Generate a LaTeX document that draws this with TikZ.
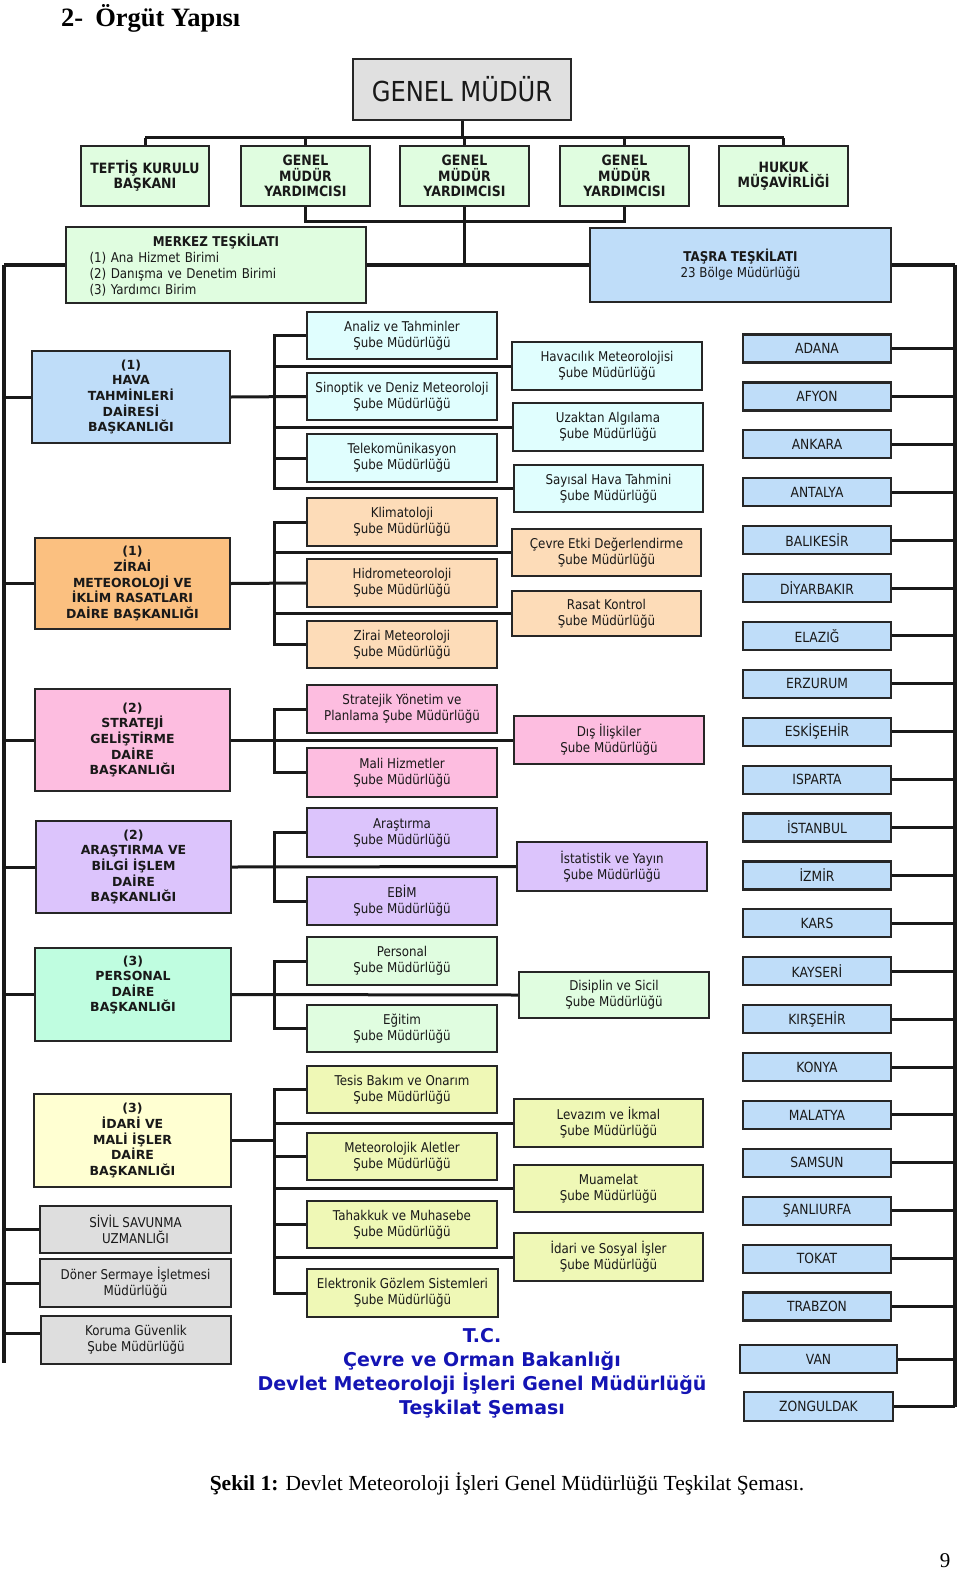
\documentclass[tikz,border=0pt]{standalone}
\usepackage{fontspec}
\setmainfont{Liberation Serif}
\newfontfamily\tah[FakeStretch=0.88]{DejaVu Sans}
\newfontfamily\verd{DejaVu Sans}
\usetikzlibrary{backgrounds}
\definecolor{gmgray}{HTML}{E0E0E0}
\definecolor{pgreen}{HTML}{E0FDE0}
\definecolor{lblue}{HTML}{BFDDF9}
\definecolor{pcyan}{HTML}{E0FEFE}
\definecolor{orng}{HTML}{FBC080}
\definecolor{peach}{HTML}{FDDCB8}
\definecolor{pink}{HTML}{FDBDE0}
\definecolor{lav}{HTML}{DCC4FC}
\definecolor{mint}{HTML}{BFFDE0}
\definecolor{pyel}{HTML}{FFFFD2}
\definecolor{ygreen}{HTML}{EFF8B6}
\definecolor{lgray}{HTML}{DEDEDE}
\definecolor{tblue}{HTML}{1414B4}
\newcommand\bx[7]{\node[#6, minimum width={(#4)-(#2)}, minimum height={(#5)-(#3)}] (#1) at ({((#2)+(#4))/2},{((#3)+(#5))/2}) {#7};}
\begin{document}
\begin{tikzpicture}[x=1pt,y=-1pt,
  box/.style={draw=black!85, line width=2.2pt, align=center, inner sep=1pt, text=black!90},
  sub/.style={box, font=\tah\fontsize{13.5}{16}\selectfont},
  dept/.style={box, font=\verd\bfseries\fontsize{12.5}{15.6}\selectfont},
  topb/.style={box, fill=pgreen, font=\tah\bfseries\fontsize{14.2}{15.5}\selectfont},
  prov/.style={box, fill=lblue, minimum width=148, minimum height=28, font=\tah\fontsize{14}{16}\selectfont},
  conn/.style={line width=3pt, draw=black!90},
  mainline/.style={line width=3.5pt, draw=black!90}]
\useasboundingbox (0,0) rectangle (960,1573);

% header, caption, page number
\node[anchor=west, font=\bfseries\fontsize{26.5}{28}\selectfont, inner sep=0pt] (hdr) at (61,18) {2-\hspace{12pt}Örgüt Yapısı};
\node[font=\fontsize{21.5}{24}\selectfont, inner sep=0pt] (cap) at (507,1484) {\textbf{Şekil 1:} Devlet Meteoroloji İşleri Genel Müdürlüğü Teşkilat Şeması.};
\node[font=\fontsize{21}{24}\selectfont, inner sep=0pt] (pg) at (945,1561) {9};

% top level
\bx{gm}{353}{59}{571}{120}{box, fill=gmgray, font=\tah\fontsize{27.5}{30}\selectfont}{GENEL MÜDÜR}
\bx{t1}{81}{146}{209}{206}{topb}{TEFTİŞ KURULU\\BAŞKANI}
\bx{t2}{241}{146}{370}{206}{topb}{GENEL\\MÜDÜR\\YARDIMCISI}
\bx{t3}{400}{146}{529}{206}{topb}{GENEL\\MÜDÜR\\YARDIMCISI}
\bx{t4}{560}{146}{689}{206}{topb}{GENEL\\MÜDÜR\\YARDIMCISI}
\bx{t5}{719}{146}{848}{206}{topb}{HUKUK\\MÜŞAVİRLİĞİ}

\bx{merkez}{66}{227}{366}{303}{box, fill=pgreen, align=left, text width=253, font=\tah\fontsize{13.5}{16}\selectfont}{\makebox[\linewidth]{\bfseries MERKEZ TEŞKİLATI}\\(1) Ana Hizmet Birimi\\(2) Danışma ve Denetim Birimi\\(3) Yardımcı Birim}
\bx{tasra}{590}{228}{891}{302}{box, fill=lblue, font=\tah\fontsize{13.5}{16}\selectfont}{\textbf{TAŞRA TEŞKİLATI}\\23 Bölge Müdürlüğü}

% departments
\bx{hava}{32}{351}{230}{443}{dept, fill=lblue}{(1)\\HAVA\\TAHMİNLERİ\\DAİRESİ\\BAŞKANLIĞI}
\bx{zirai}{35}{538}{230}{629}{dept, fill=orng}{(1)\\ZİRAİ\\METEOROLOJİ VE\\İKLİM RASATLARI\\DAİRE BAŞKANLIĞI}
\bx{strat}{35}{689}{230}{791}{dept, fill=pink}{(2)\\STRATEJİ\\GELİŞTİRME\\DAİRE\\BAŞKANLIĞI}
\bx{arast}{36}{821}{231}{913}{dept, fill=lav}{(2)\\ARAŞTIRMA VE\\BİLGİ İŞLEM\\DAİRE\\BAŞKANLIĞI}
\bx{pers}{35}{948}{231}{1041}{dept, fill=mint}{(3)\\PERSONAL\\DAİRE\\BAŞKANLIĞI\\[6pt]}
\bx{idari}{34}{1094}{231}{1187}{dept, fill=pyel}{(3)\\İDARİ VE\\MALİ İŞLER\\DAİRE\\BAŞKANLIĞI}
\bx{sivil}{40}{1206}{231}{1253}{sub, fill=lgray}{SİVİL SAVUNMA\\UZMANLIĞI}
\bx{doner}{40}{1259}{231}{1307}{sub, fill=lgray}{Döner Sermaye İşletmesi\\Müdürlüğü}
\bx{koruma}{41}{1316}{231}{1364}{sub, fill=lgray}{Koruma Güvenlik\\Şube Müdürlüğü}

% left column sub-units
\bx{a1}{307}{312}{497}{359}{sub, fill=pcyan}{Analiz ve Tahminler\\Şube Müdürlüğü}
\bx{a2}{307}{373}{497}{420}{sub, fill=pcyan}{Sinoptik ve Deniz Meteoroloji\\Şube Müdürlüğü}
\bx{a3}{307}{434}{497}{482}{sub, fill=pcyan}{Telekomünikasyon\\Şube Müdürlüğü}
\bx{z1}{307}{498}{497}{546}{sub, fill=peach}{Klimatoloji\\Şube Müdürlüğü}
\bx{z2}{307}{559}{497}{607}{sub, fill=peach}{Hidrometeoroloji\\Şube Müdürlüğü}
\bx{z3}{307}{621}{497}{668}{sub, fill=peach}{Zirai Meteoroloji\\Şube Müdürlüğü}
\bx{s1}{307}{685}{497}{733}{sub, fill=pink}{Stratejik Yönetim ve\\Planlama Şube Müdürlüğü}
\bx{s2}{307}{748}{497}{797}{sub, fill=pink}{Mali Hizmetler\\Şube Müdürlüğü}
\bx{r1}{307}{808}{497}{857}{sub, fill=lav}{Araştırma\\Şube Müdürlüğü}
\bx{r2}{307}{877}{497}{925}{sub, fill=lav}{EBİM\\Şube Müdürlüğü}
\bx{p1}{307}{937}{497}{985}{sub, fill=pgreen}{Personal\\Şube Müdürlüğü}
\bx{p2}{307}{1005}{497}{1052}{sub, fill=pgreen}{Eğitim\\Şube Müdürlüğü}
\bx{i1}{307}{1066}{497}{1113}{sub, fill=ygreen}{Tesis Bakım ve Onarım\\Şube Müdürlüğü}
\bx{i2}{307}{1133}{497}{1180}{sub, fill=ygreen}{Meteorolojik Aletler\\Şube Müdürlüğü}
\bx{i3}{307}{1201}{497}{1248}{sub, fill=ygreen}{Tahakkuk ve Muhasebe\\Şube Müdürlüğü}
\bx{i4}{307}{1269}{498}{1317}{sub, fill=ygreen}{Elektronik Gözlem Sistemleri\\Şube Müdürlüğü}

% right column sub-units
\bx{b1}{512}{342}{702}{390}{sub, fill=pcyan}{Havacılık Meteorolojisi\\Şube Müdürlüğü}
\bx{b2}{513}{403}{703}{451}{sub, fill=pcyan}{Uzaktan Algılama\\Şube Müdürlüğü}
\bx{b3}{514}{465}{703}{512}{sub, fill=pcyan}{Sayısal Hava Tahmini\\Şube Müdürlüğü}
\bx{c1}{512}{529}{701}{576}{sub, fill=peach}{Çevre Etki Değerlendirme\\Şube Müdürlüğü}
\bx{c2}{512}{591}{701}{636}{sub, fill=peach}{Rasat Kontrol\\Şube Müdürlüğü}
\bx{d1}{514}{716}{704}{764}{sub, fill=pink}{Dış İlişkiler\\Şube Müdürlüğü}
\bx{e1}{517}{842}{707}{891}{sub, fill=lav}{İstatistik ve Yayın\\Şube Müdürlüğü}
\bx{f1}{519}{972}{709}{1018}{sub, fill=pgreen}{Disiplin ve Sicil\\Şube Müdürlüğü}
\bx{g1}{514}{1099}{703}{1147}{sub, fill=ygreen}{Levazım ve İkmal\\Şube Müdürlüğü}
\bx{g2}{514}{1165}{703}{1212}{sub, fill=ygreen}{Muamelat\\Şube Müdürlüğü}
\bx{g3}{514}{1233}{703}{1281}{sub, fill=ygreen}{İdari ve Sosyal İşler\\Şube Müdürlüğü}

% provinces
\foreach \n [count=\i from 0] in {ADANA,AFYON,ANKARA,ANTALYA,BALIKESİR,DİYARBAKIR,ELAZIĞ,ERZURUM,ESKİŞEHİR,ISPARTA,İSTANBUL,İZMİR,KARS,KAYSERİ,KIRŞEHİR,KONYA,MALATYA,SAMSUN,ŞANLIURFA,TOKAT,TRABZON}
  \node[prov] (pv\i) at (817,{348.5+47.9*\i}) {\n};
\bx{van}{740}{1345}{897}{1373}{prov, minimum width=157}{VAN}
\bx{zon}{744}{1392}{893}{1421}{prov}{ZONGULDAK}

% blue title
\node[font=\verd\bfseries\fontsize{19}{24}\selectfont, text=tblue, align=center] (ttl) at (482,1373) {T.C.\\Çevre ve Orman Bakanlığı\\Devlet Meteoroloji İşleri Genel Müdürlüğü\\Teşkilat Şeması};

% connectors
\coordinate (L) at (4,265);
\coordinate (R) at (955,265);
\coordinate (Lb) at (4,1363);
\coordinate (bus) at (274,0);
\coordinate (topbar) at (0,138);
\coordinate (gmybar) at (0,221);
\begin{pgfonlayer}{background}
  \fill[white] (0,0) rectangle (960,1573);
  \draw[conn] (gm.south) -- (gm.south |- topbar);
  \draw[conn] (t1.north |- topbar) -- (t5.north |- topbar);
  \foreach \t in {t1,t2,t3,t4,t5} \draw[conn] (\t.north |- topbar) -- (\t.north);
  \draw[conn] (t2.south) -- (t2.south |- gmybar) -- (t4.south |- gmybar) -- (t4.south);
  \draw[conn] (t3.south) -- (t3.south |- L);
  \draw[mainline] (L) -- (R);
  \draw[mainline] (L) -- (Lb);
  \draw[mainline] (R) -- (R |- zon.east);
  % department links from left spine
  \foreach \d in {hava,zirai,strat,arast,pers,sivil,doner}
    \draw[conn] (L |- \d.west) -- (\d.west);
  \draw[conn] (L |- 0,1333) -- (koruma.west |- 0,1333);
  % HAVA group
  \draw[conn] (hava.east) -- (a2.west);
  \draw[conn] (a1.west) -- (bus |- a1.west) -- (bus |- b3.west) -- (b3.west);
  \draw[conn] (a3.west) -- (bus |- a3.west);
  \draw[conn] (bus |- b1.west) -- (b1.west);
  \draw[conn] (bus |- b2.west) -- (b2.west);
  % ZIRAI group
  \draw[conn] (zirai.east) -- (z2.west);
  \draw[conn] (z1.west) -- (bus |- z1.west) -- (bus |- z3.west) -- (z3.west);
  \draw[conn] (bus |- c1.west) -- (c1.west);
  \draw[conn] (bus |- c2.west) -- (c2.west);
  % STRATEJI group
  \draw[conn] (strat.east) -- (d1.west);
  \draw[conn] (s1.west) -- (bus |- s1.west) -- (bus |- s2.west) -- (s2.west);
  % ARASTIRMA group
  \draw[conn] (arast.east) -- (e1.west);
  \draw[conn] (r1.west) -- (bus |- r1.west) -- (bus |- r2.west) -- (r2.west);
  % PERSONAL group
  \draw[conn] (pers.east) -- (f1.west);
  \draw[conn] (p1.west) -- (bus |- p1.west) -- (bus |- p2.west) -- (p2.west);
  % IDARI group
  \draw[conn] (idari.east) -- (bus |- idari.east);
  \draw[conn] (i1.west) -- (bus |- i1.west) -- (bus |- i4.west) -- (i4.west);
  \draw[conn] (i2.west) -- (bus |- i2.west);
  \draw[conn] (i3.west) -- (bus |- i3.west);
  \draw[conn] (bus |- g1.west) -- (g1.west);
  \draw[conn] (bus |- g2.west) -- (g2.west);
  \draw[conn] (bus |- g3.west) -- (g3.west);
  % provinces
  \foreach \i in {0,...,20} \draw[conn] (pv\i.east) -- (R |- pv\i.east);
  \draw[conn] (van.east) -- (R |- van.east);
  \draw[conn] (zon.east) -- (R |- zon.east);
\end{pgfonlayer}
\end{tikzpicture}
\end{document}
